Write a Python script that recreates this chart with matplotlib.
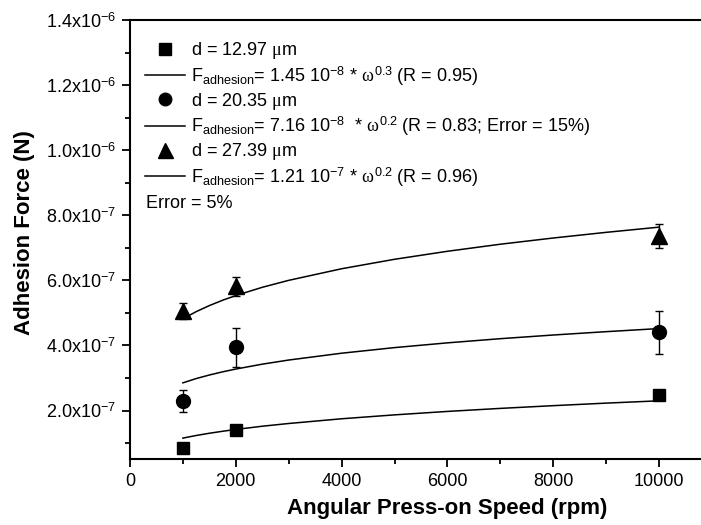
import numpy as np
import matplotlib
matplotlib.use("Agg")
import matplotlib.pyplot as plt
from matplotlib.ticker import MultipleLocator, FuncFormatter

plt.rcParams['font.family'] = ['Liberation Sans', 'DejaVu Sans']
plt.rcParams['mathtext.fontset'] = 'custom'
plt.rcParams['mathtext.rm'] = 'Liberation Sans'
plt.rcParams['mathtext.it'] = 'Liberation Serif'
plt.rcParams['mathtext.bf'] = 'Liberation Sans:bold'

# ---- data ----
speed = [1000, 2000, 10000]                       # rpm
force_d1297 = [0.845e-7, 1.386e-7, 2.48e-7]        # N
err_d1297 = [0.04e-7, 0.07e-7, 0.12e-7]
force_d2035 = [2.29e-7, 3.94e-7, 4.40e-7]
err_d2035 = [0.34e-7, 0.59e-7, 0.66e-7]
force_d2739 = [5.05e-7, 5.82e-7, 7.35e-7]
err_d2739 = [0.25e-7, 0.29e-7, 0.37e-7]

# fitted curves
fit_speed = [1000, 1250, 1500, 1750, 2000, 2500, 3000, 4000, 5000, 6000,
             7000, 8000, 9000, 10000]
fit_d1297 = [1.152e-7, 1.232e-7, 1.301e-7, 1.362e-7, 1.418e-7, 1.517e-7,
             1.601e-7, 1.746e-7, 1.866e-7, 1.972e-7, 2.065e-7, 2.149e-7,
             2.227e-7, 2.298e-7]
fit_d2035 = [2.850e-7, 2.981e-7, 3.091e-7, 3.188e-7, 3.274e-7, 3.424e-7,
             3.551e-7, 3.761e-7, 3.933e-7, 4.079e-7, 4.207e-7, 4.320e-7,
             4.423e-7, 4.518e-7]
fit_d2739 = [4.817e-7, 5.037e-7, 5.224e-7, 5.388e-7, 5.533e-7, 5.786e-7,
             6.000e-7, 6.356e-7, 6.647e-7, 6.893e-7, 7.110e-7, 7.301e-7,
             7.475e-7, 7.635e-7]

x_ticks = [0, 2000, 4000, 6000, 8000, 10000]

lab_d1 = r"d = 12.97 $\mu$m"
lab_f1 = r"F$_{\mathregular{adhesion}}$= 1.45 10$^{\mathregular{-8}}$ * $\omega^{\mathregular{0.3}}$ (R = 0.95)"
lab_d2 = r"d = 20.35 $\mu$m"
lab_f2 = r"F$_{\mathregular{adhesion}}$= 7.16 10$^{\mathregular{-8}}$  * $\omega^{\mathregular{0.2}}$ (R = 0.83; Error = 15%)"
lab_d3 = r"d = 27.39 $\mu$m"
lab_f3 = r"F$_{\mathregular{adhesion}}$= 1.21 10$^{\mathregular{-7}}$ * $\omega^{\mathregular{0.2}}$ (R = 0.96)"

fig = plt.figure(figsize=(7.01, 5.25), dpi=100)
ax = fig.add_axes([0.1854, 0.1251, 0.9058, 0.8368])

# error bars first, markers on top
for f, e in [(force_d1297, err_d1297), (force_d2035, err_d2035), (force_d2739, err_d2739)]:
    ax.errorbar(speed, f, yerr=e, fmt='none', ecolor='black', elinewidth=1.0,
                capsize=3, capthick=1.0, zorder=2)

h1, = ax.plot(speed, force_d1297, 's', color='black', ms=9, label=lab_d1, zorder=3)
h2, = ax.plot(speed, force_d2035, 'o', color='black', ms=10, label=lab_d2, zorder=3)
h3, = ax.plot(speed, force_d2739, '^', color='black', ms=12, label=lab_d3, zorder=3)

l1, = ax.plot(fit_speed, fit_d1297, '-', color='black', lw=1.1, label=lab_f1)
l2, = ax.plot(fit_speed, fit_d2035, '-', color='black', lw=1.1, label=lab_f2)
l3, = ax.plot(fit_speed, fit_d2739, '-', color='black', lw=1.1, label=lab_f3)

ax.set_xlim(0, 12000)
ax.set_ylim(5e-8, 1.4e-6)

ax.set_xticks(x_ticks)
ax.xaxis.set_minor_locator(MultipleLocator(1000))
ax.yaxis.set_major_locator(MultipleLocator(2e-7))
ax.yaxis.set_minor_locator(MultipleLocator(1e-7))


def sci_fmt(v, pos):
    if v <= 0:
        return "0"
    ex = int(np.floor(np.log10(v) + 1e-9))
    m = v / 10 ** ex
    return "%.1fx10$^{\\mathregular{%d}}$" % (m, ex)


ax.yaxis.set_major_formatter(FuncFormatter(sci_fmt))

ax.tick_params(axis='both', which='major', direction='out', length=6, width=1.3,
               labelsize=13, pad=4)
ax.tick_params(axis='both', which='minor', direction='out', length=3.5, width=1.3)
ax.tick_params(top=False, right=False)

for s in ['left', 'bottom', 'top']:
    ax.spines[s].set_linewidth(1.5)
ax.spines['right'].set_visible(False)

ax.set_xlabel("Angular Press-on Speed (rpm)", fontsize=16, fontweight='bold')
ax.set_ylabel("Adhesion Force (N)", fontsize=16, fontweight='bold')
ax.xaxis.set_label_coords(0.5, -0.089)
ax.yaxis.set_label_coords(-0.15, 0.517)

leg = ax.legend(handles=[h1, l1, h2, l2, h3, l3], loc='upper left',
                bbox_to_anchor=(0.0236, 0.954), frameon=False, fontsize=13,
                borderpad=0, borderaxespad=0, handlelength=2.2,
                handletextpad=0.35, labelspacing=0.17, markerscale=0.9)

ax.text(0.0247, 0.572, "Error = 5%", transform=ax.transAxes, fontsize=13,
        va='baseline', ha='left')

fig.savefig("out.png", dpi=100)
